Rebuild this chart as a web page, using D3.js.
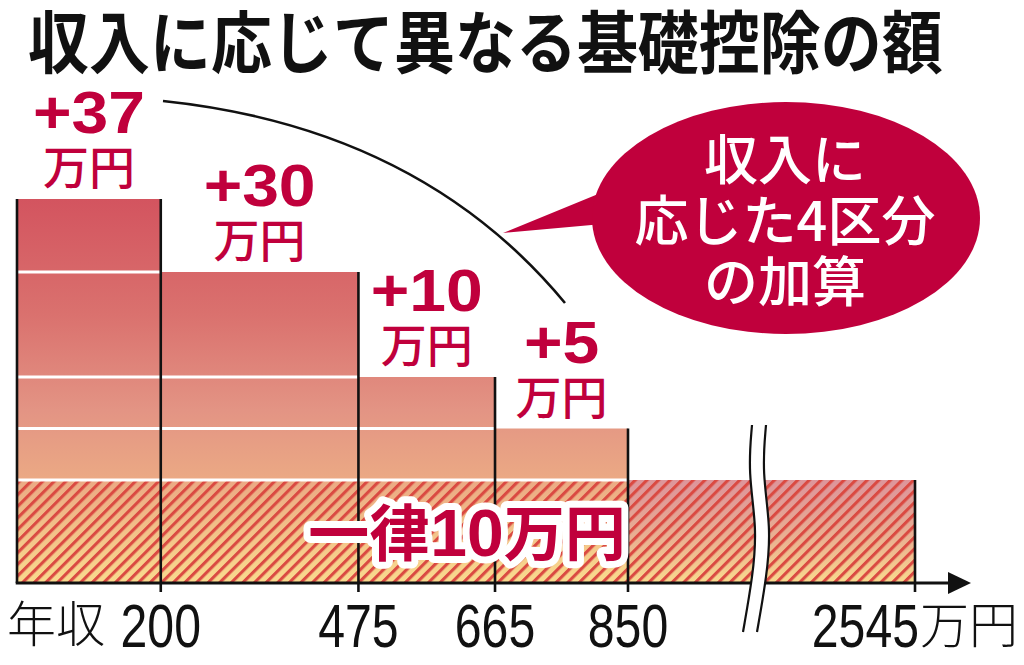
<!DOCTYPE html>
<html>
<head>
<meta charset="utf-8">
<style>
  body { margin: 0; background: #fff; }
  svg { display: block; }
  .jp { font-family: "Noto Sans CJK JP", sans-serif; }
  .num { font-family: "Liberation Sans", Arial, sans-serif; }
  .bold { font-family: "Liberation Sans", Arial, sans-serif; font-weight: bold; }
</style>
<title>収入に応じて異なる基礎控除の額</title>
</head>
<body>
<script src="https://cdn.jsdelivr.net/npm/d3@7"></script>
<script>

// 年収の区切り（万円）
var incomeEdges = [0, 200, 475, 665, 850, 2545];
// 区分ごとの加算額（万円）
var addAmounts = [37, 30, 10, 5];
// 一律の額
var baseAmount = 10;
var tickLabels = ["200", "475", "665", "850", "2545"];
var bubbleLines = ["収入に", "応じた4区分", "の加算"];
var titleText = "収入に応じて異なる基礎控除の額";

var width = 1024, height = 665;
var red = "#c0003c";

var svg = d3.select("body").append("svg")
  .attr("width", width)
  .attr("height", height);

// x is broken after 850, y is squeezed between 20 and 40 like the original
var x = d3.scaleLinear().domain([0, 850, 2545]).range([17, 628, 915]);
var y = d3.scaleLinear().domain([0, 20, 40, 47]).range([583, 377, 272, 199]);

var bars = addAmounts.map(function(a, i) {
  return {x0: incomeEdges[i], x1: incomeEdges[i + 1], add: a, total: baseAmount + a};
});

var defs = svg.append("defs");

var grad = defs.append("linearGradient")
  .attr("id", "fade")
  .attr("gradientUnits", "userSpaceOnUse")
  .attr("x1", 0).attr("x2", 0)
  .attr("y1", y(47)).attr("y2", y(0));
[[0, "#d3545f"], [0.3, "#da716e"], [0.55, "#e39484"], [0.73, "#eba984"], [1, "#f9da8e"]].forEach(function(s) {
  grad.append("stop").attr("offset", s[0]).attr("stop-color", s[1]);
});

// right part of the base turns pink at the top
var pink = defs.append("linearGradient")
  .attr("id", "pink")
  .attr("gradientUnits", "userSpaceOnUse")
  .attr("x1", 0).attr("x2", 0)
  .attr("y1", y(baseAmount)).attr("y2", y(0));
pink.append("stop").attr("offset", 0).attr("stop-color", "#dc949e").attr("stop-opacity", 0.9);
pink.append("stop").attr("offset", 1).attr("stop-color", "#dc949e").attr("stop-opacity", 0);

var hatch = defs.append("pattern")
  .attr("id", "hatch")
  .attr("patternUnits", "userSpaceOnUse")
  .attr("width", 8.2).attr("height", 8.2)
  .attr("patternTransform", "rotate(45)");
hatch.append("rect")
  .attr("x", 0).attr("y", 0)
  .attr("width", 3.1).attr("height", 8.2)
  .attr("fill", "#da4a42");

// title
svg.append("text")
  .attr("class", "jp")
  .attr("transform", "translate(28,67.5) scale(1,1.12)")
  .attr("font-size", 61)
  .attr("font-weight", 700)
  .attr("fill", "#111")
  .text(titleText);

// base (一律) area, full width
svg.append("rect")
  .attr("x", x(0)).attr("y", y(baseAmount))
  .attr("width", x(2545) - x(0))
  .attr("height", y(0) - y(baseAmount))
  .attr("fill", "url(#fade)");
svg.append("rect")
  .attr("x", x(850)).attr("y", y(baseAmount))
  .attr("width", x(2545) - x(850))
  .attr("height", y(0) - y(baseAmount))
  .attr("fill", "url(#pink)");

// added part per bracket
svg.selectAll("rect.bar")
  .data(bars)
  .enter().append("rect")
  .attr("class", "bar")
  .attr("x", function(d) { return x(d.x0); })
  .attr("y", function(d) { return y(d.total); })
  .attr("width", function(d) { return x(d.x1) - x(d.x0); })
  .attr("height", function(d) { return y(baseAmount) - y(d.total); })
  .attr("fill", "url(#fade)");

svg.append("rect")
  .attr("x", x(0)).attr("y", y(baseAmount))
  .attr("width", x(2545) - x(0))
  .attr("height", y(0) - y(baseAmount))
  .attr("fill", "url(#hatch)");

// white lines at each step level
var levels = [baseAmount].concat(bars.map(function(d) { return d.total; }).slice(1));
svg.selectAll("line.step")
  .data(levels)
  .enter().append("line")
  .attr("class", "step")
  .attr("x1", x(0))
  .attr("x2", function(l) {
    var last = bars.filter(function(b) { return b.total > l; });
    return x(last[last.length - 1].x1);
  })
  .attr("y1", function(l) { return y(l); })
  .attr("y2", function(l) { return y(l); })
  .attr("stroke", "#fff")
  .attr("stroke-width", 3);

// black edges
var segTotals = bars.map(function(d) { return d.total; }).concat([baseAmount]);
svg.selectAll("line.edge")
  .data(incomeEdges)
  .enter().append("line")
  .attr("class", "edge")
  .attr("x1", function(d) { return x(d); })
  .attr("x2", function(d) { return x(d); })
  .attr("y1", function(d, i) {
    var a = i > 0 ? segTotals[i - 1] : 0, b = i < segTotals.length ? segTotals[i] : 0;
    return y(Math.max(a, b));
  })
  .attr("y2", function(d, i) { return i == 0 ? y(0) : y(0) + 9; })
  .attr("stroke", "#111")
  .attr("stroke-width", 2.6);

// axis with arrow
svg.append("line")
  .attr("x1", x(0) - 1.3).attr("x2", 952)
  .attr("y1", y(0)).attr("y2", y(0))
  .attr("stroke", "#111")
  .attr("stroke-width", 3);
svg.append("path")
  .attr("d", "M948," + (y(0) - 11) + "L971," + y(0) + "L948," + (y(0) + 11) + "Z")
  .attr("fill", "#111");

// break mark
var bx = 752, bw = 14;
var wave = [[0, 425], [-4, 472], [5, 528], [1, 575], [-9, 632]];
var lineGen = d3.line().curve(d3.curveBasis);
var leftPts = wave.map(function(p) { return [bx + p[0], p[1]]; });
var rightPts = wave.map(function(p) { return [bx + bw + p[0], p[1]]; });
svg.append("path")
  .attr("d", lineGen(leftPts) + "L" + lineGen(rightPts.slice().reverse()).slice(1) + "Z")
  .attr("fill", "#fff");
[leftPts, rightPts].forEach(function(pts) {
  svg.append("path")
    .attr("d", lineGen(pts))
    .attr("fill", "none")
    .attr("stroke", "#111")
    .attr("stroke-width", 2.2);
});

// +NN 万円 labels
var lab = svg.selectAll("g.lab")
  .data(bars)
  .enter().append("g")
  .attr("class", "lab")
  .attr("transform", function(d) { return "translate(" + (x(d.x0) + x(d.x1)) / 2 + "," + y(d.total) + ")"; });
lab.append("text")
  .attr("class", "bold")
  .attr("transform", "translate(0,-66) scale(1.1,1)")
  .attr("text-anchor", "middle")
  .attr("font-size", 60)
  .attr("fill", red)
  .text(function(d) { return "+" + d.add; });
lab.append("text")
  .attr("class", "jp")
  .attr("y", -15)
  .attr("text-anchor", "middle")
  .attr("font-size", 46)
  .attr("font-weight", 500)
  .attr("fill", red)
  .text("万円");

// 一律10万円
var mid = svg.append("text")
  .attr("x", 467).attr("y", 556)
  .attr("text-anchor", "middle")
  .attr("fill", red)
  .attr("stroke", "#fff")
  .attr("stroke-width", 14)
  .attr("stroke-linejoin", "round")
  .attr("paint-order", "stroke");
mid.append("tspan").attr("class", "jp").attr("font-size", 61).attr("font-weight", 700).text("一律");
mid.append("tspan").attr("class", "bold").attr("font-size", 66).text(baseAmount);
mid.append("tspan").attr("class", "jp").attr("font-size", 61).attr("font-weight", 700).text("万円");

// curve from the bars to the bubble
svg.append("path")
  .attr("d", "M163,101Q420,128 565,303")
  .attr("fill", "none")
  .attr("stroke", "#111")
  .attr("stroke-width", 2.6);

// bubble
svg.append("path")
  .attr("d", "M503,233L625,183L625,222Z")
  .attr("fill", red);
svg.append("ellipse")
  .attr("cx", 786).attr("cy", 218)
  .attr("rx", 194).attr("ry", 116)
  .attr("fill", red);
svg.selectAll("text.bub")
  .data(bubbleLines)
  .enter().append("text")
  .attr("class", "jp bub")
  .attr("x", 785)
  .attr("y", function(d, i) { return 180 + i * 61; })
  .attr("text-anchor", "middle")
  .attr("font-size", 54)
  .attr("font-weight", 500)
  .attr("fill", "#fff")
  .text(function(d) { return d; });

// x labels
svg.append("text")
  .attr("class", "jp")
  .attr("x", 7).attr("y", 642)
  .attr("font-size", 49)
  .attr("font-weight", 300)
  .attr("fill", "#111")
  .text("年収");

// condensed digits: squeeze horizontally
var ticks = incomeEdges.slice(1);
svg.selectAll("text.tick")
  .data(ticks)
  .enter().append("text")
  .attr("class", "num tick")
  .attr("transform", function(d, i) {
    var tx = i == ticks.length - 1 ? x(d) + 4 : x(d);
    return "translate(" + tx + ",647) scale(0.79,1)";
  })
  .attr("text-anchor", function(d, i) { return i == ticks.length - 1 ? "end" : "middle"; })
  .attr("font-size", 61)
  .attr("fill", "#111")
  .text(function(d, i) { return tickLabels[i]; });

svg.append("text")
  .attr("class", "jp")
  .attr("x", x(2545) + 5).attr("y", 643)
  .attr("font-size", 49)
  .attr("font-weight", 300)
  .attr("fill", "#111")
  .text("万円");

</script>
</body>
</html>
